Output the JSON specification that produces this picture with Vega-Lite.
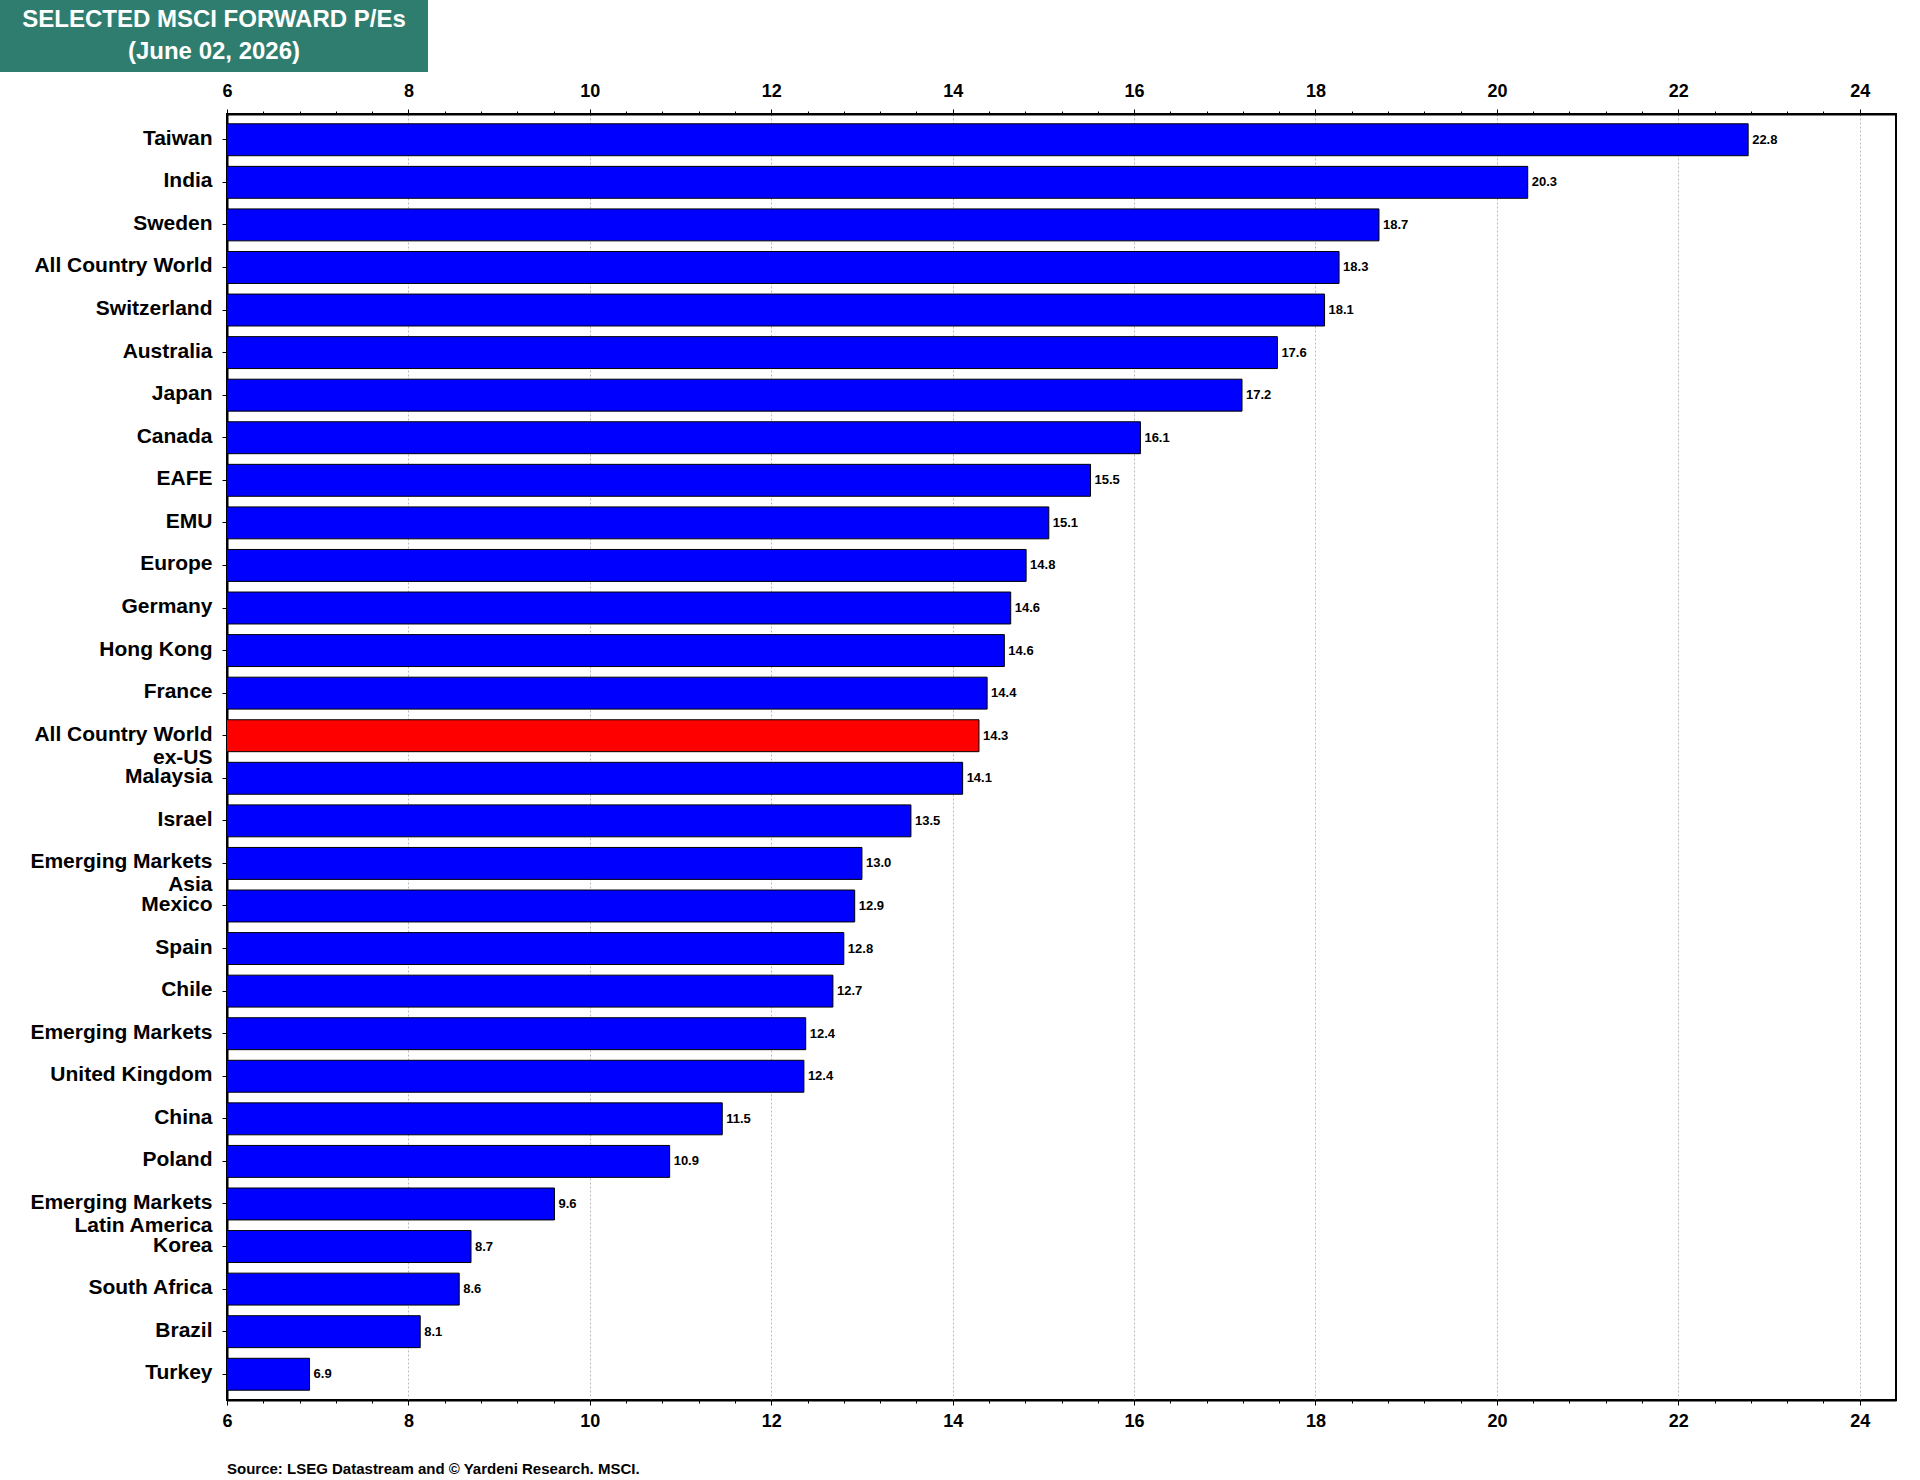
{
  "$schema": "https://vega.github.io/schema/vega-lite/v6.json",
  "padding": 0,
  "background": "white",
  "align": "none",
  "config": {
    "font": "Liberation Sans",
    "concat": {"spacing": 9}
  },
  "datasets": {
    "pe": [
      {"name": "Taiwan", "pe": 22.77},
      {"name": "India", "pe": 20.34},
      {"name": "Sweden", "pe": 18.70},
      {"name": "All Country World", "pe": 18.26},
      {"name": "Switzerland", "pe": 18.10},
      {"name": "Australia", "pe": 17.58},
      {"name": "Japan", "pe": 17.19},
      {"name": "Canada", "pe": 16.07},
      {"name": "EAFE", "pe": 15.52},
      {"name": "EMU", "pe": 15.06},
      {"name": "Europe", "pe": 14.81},
      {"name": "Germany", "pe": 14.64},
      {"name": "Hong Kong", "pe": 14.57},
      {"name": "France", "pe": 14.38},
      {"name": "All Country World ex-US", "pe": 14.29},
      {"name": "Malaysia", "pe": 14.11},
      {"name": "Israel", "pe": 13.54},
      {"name": "Emerging Markets Asia", "pe": 13.00},
      {"name": "Mexico", "pe": 12.92},
      {"name": "Spain", "pe": 12.80},
      {"name": "Chile", "pe": 12.68},
      {"name": "Emerging Markets", "pe": 12.38},
      {"name": "United Kingdom", "pe": 12.36},
      {"name": "China", "pe": 11.46},
      {"name": "Poland", "pe": 10.88},
      {"name": "Emerging Markets Latin America", "pe": 9.61},
      {"name": "Korea", "pe": 8.69},
      {"name": "South Africa", "pe": 8.56},
      {"name": "Brazil", "pe": 8.13},
      {"name": "Turkey", "pe": 6.91}
    ],
    "titleLines": [
      {"line": 1, "text": "SELECTED MSCI FORWARD P/Es"},
      {"line": 2, "text": "(June 02, 2026)"}
    ]
  },
  "vconcat": [
    {
      "width": 428,
      "height": 72,
      "view": {"stroke": null},
      "layer": [
        {
          "data": {"values": [{"box": "title"}]},
          "mark": {"type": "rect", "color": "#2F7D6F"},
          "encoding": {
            "x": {"datum": 0, "type": "quantitative", "scale": {"domain": [0, 1], "range": [-227, 201]}, "axis": null},
            "x2": {"datum": 1}
          }
        },
        {
          "data": {"name": "titleLines"},
          "mark": {"type": "text", "color": "white", "fontSize": 24, "fontWeight": "bold", "font": "Liberation Sans", "align": "center", "baseline": "middle"},
          "encoding": {
            "x": {"datum": 0.5, "type": "quantitative"},
            "y": {"field": "line", "type": "ordinal", "axis": null, "scale": {"padding": 0.6}},
            "text": {"field": "text"}
          }
        }
      ]
    },
    {
      "width": 1669,
      "height": 1286,
      "view": {"stroke": "black", "strokeWidth": 2},
      "data": {"name": "pe"},
      "title": {
        "text": "Source: LSEG Datastream and © Yardeni Research. MSCI.",
        "orient": "bottom",
        "anchor": "start",
        "frame": "group",
        "fontSize": 15,
        "fontWeight": "bold",
        "font": "Liberation Sans",
        "color": "black",
        "offset": 32
      },
      "encoding": {
        "y": {
          "field": "name",
          "type": "nominal",
          "sort": null,
          "scale": {"paddingInner": 0.25, "paddingOuter": 0.23},
          "axis": {
            "title": null,
            "labelFontSize": 21,
            "labelFontWeight": "bold",
            "labelColor": "black",
            "labelFont": "Liberation Sans",
            "labelBaseline": "alphabetic",
            "labelOffset": 5,
            "labelPadding": 10,
            "labelLimit": 400,
            "tickSize": 5,
            "tickColor": "black",
            "domainColor": "black",
            "domainWidth": 2,
            "minExtent": 226,
            "labelExpr": "datum.value == 'All Country World ex-US' ? ['All Country World', 'ex-US'] : datum.value == 'Emerging Markets Asia' ? ['Emerging Markets', 'Asia'] : datum.value == 'Emerging Markets Latin America' ? ['Emerging Markets', 'Latin America'] : datum.value"
          }
        }
      },
      "layer": [
        {
          "mark": {"type": "bar", "stroke": "black", "strokeWidth": 1, "clip": true},
          "encoding": {
            "x": {
              "field": "pe",
              "type": "quantitative",
              "scale": {"domain": [6, 24.4], "nice": false, "zero": false},
              "axis": {
                "orient": "bottom",
                "title": null,
                "values": [6, 6.4, 6.8, 7.2, 7.6, 8, 8.4, 8.8, 9.2, 9.6, 10, 10.4, 10.8, 11.2, 11.6, 12, 12.4, 12.8, 13.2, 13.6, 14, 14.4, 14.8, 15.2, 15.6, 16, 16.4, 16.8, 17.2, 17.6, 18, 18.4, 18.8, 19.2, 19.6, 20, 20.4, 20.8, 21.2, 21.6, 22, 22.4, 22.8, 23.2, 23.6, 24],
                "labelExpr": "abs(datum.value - 2*round(datum.value/2)) < 0.01 ? format(datum.value, 'd') : ''",
                "labelFontSize": 18,
                "labelFontWeight": "bold",
                "labelColor": "black",
                "labelFont": "Liberation Sans",
                "labelFlush": false,
                "labelOverlap": false,
                "labelPadding": 7,
                "tickColor": "black",
                "tickSize": {"condition": {"test": "abs(datum.value - 2*round(datum.value/2)) < 0.01", "value": 5}, "value": 3},
                "domainColor": "black",
                "domainWidth": 2,
                "grid": true,
                "gridColor": "#bbbbbb",
                "gridDash": [2, 2],
                "gridWidth": 1,
                "gridOpacity": {"condition": {"test": "abs(datum.value - 2*round(datum.value/2)) < 0.01", "value": 1}, "value": 0}
              }
            },
            "fill": {
              "condition": {"test": "datum.name === 'All Country World ex-US'", "value": "#FF0000"},
              "value": "#0000FF"
            }
          }
        },
        {
          "mark": {"type": "text", "align": "left", "baseline": "middle", "dx": 4, "fontSize": 13, "fontWeight": "bold", "font": "Liberation Sans", "color": "black"},
          "encoding": {
            "x": {
              "field": "pe",
              "type": "quantitative",
              "axis": {
                "orient": "top",
                "title": null,
                "values": [6, 6.4, 6.8, 7.2, 7.6, 8, 8.4, 8.8, 9.2, 9.6, 10, 10.4, 10.8, 11.2, 11.6, 12, 12.4, 12.8, 13.2, 13.6, 14, 14.4, 14.8, 15.2, 15.6, 16, 16.4, 16.8, 17.2, 17.6, 18, 18.4, 18.8, 19.2, 19.6, 20, 20.4, 20.8, 21.2, 21.6, 22, 22.4, 22.8, 23.2, 23.6, 24],
                "labelExpr": "abs(datum.value - 2*round(datum.value/2)) < 0.01 ? format(datum.value, 'd') : ''",
                "labelFontSize": 18,
                "labelFontWeight": "bold",
                "labelColor": "black",
                "labelFont": "Liberation Sans",
                "labelFlush": false,
                "labelOverlap": false,
                "labelPadding": 9,
                "tickColor": "black",
                "tickSize": {"condition": {"test": "abs(datum.value - 2*round(datum.value/2)) < 0.01", "value": 5}, "value": 3},
                "domainColor": "black",
                "domainWidth": 2,
                "grid": false
              }
            },
            "text": {"field": "pe", "type": "quantitative", "format": ".1f"}
          }
        }
      ],
      "resolve": {"axis": {"x": "independent"}}
    }
  ]
}
